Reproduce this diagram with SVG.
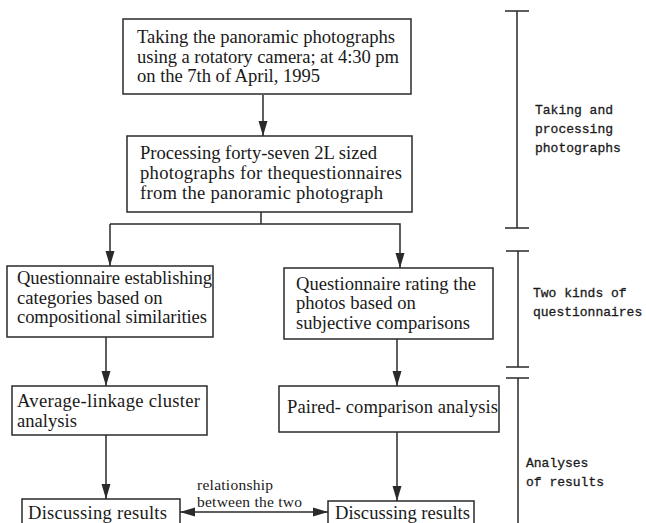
<svg xmlns="http://www.w3.org/2000/svg" width="646" height="523" viewBox="0 0 646 523">
<style>
.box{fill:#fff;stroke:#2a2a2a;stroke-width:1.5}
.t{font-family:"Liberation Serif","Times New Roman",serif;font-size:18.6px;fill:#1a1a1a}
.s{font-family:"Liberation Serif","Times New Roman",serif;font-size:15.5px;fill:#1a1a1a}
.m{font-family:"Liberation Mono","DejaVu Sans Mono",monospace;font-size:13px;fill:#1a1a1a;stroke:#1a1a1a;stroke-width:0.3}
.c{fill:none;stroke:#2a2a2a;stroke-width:1.5}
</style>
<defs>
<marker id="ah" markerUnits="userSpaceOnUse" markerWidth="16" markerHeight="10" refX="15" refY="5" orient="auto-start-reverse" viewBox="0 0 16 10">
<path d="M0,0.5 L15,5 L0,9.5 z" fill="#2a2a2a"/>
</marker>
</defs>
<rect width="646" height="523" fill="#fff"/>
<g id="connectors">
<line class="c" x1="263" y1="95" x2="263" y2="136" marker-end="url(#ah)"/>
<polyline class="c" points="110,224 400,224 400,268" marker-end="url(#ah)"/>
<line class="c" x1="110" y1="224" x2="110" y2="266" marker-end="url(#ah)"/>
<line class="c" x1="261" y1="212" x2="261" y2="224"/>
<line class="c" x1="106" y1="337" x2="106" y2="386" marker-end="url(#ah)"/>
<line class="c" x1="397" y1="339" x2="397" y2="386" marker-end="url(#ah)"/>
<line class="c" x1="106" y1="435" x2="106" y2="499" marker-end="url(#ah)"/>
<line class="c" x1="397" y1="432" x2="397" y2="501" marker-end="url(#ah)"/>
<line class="c" x1="180" y1="512" x2="328" y2="512" marker-start="url(#ah)" marker-end="url(#ah)"/>
<text class="s" x="197" y="490" textLength="76">relationship</text>
<text class="s" x="197" y="507" textLength="105">between the two</text>
</g>
<g id="n1">
<rect class="box" x="123" y="19" width="288" height="75"/>
<text class="t" x="137" y="43" textLength="258">Taking the panoramic photographs</text>
<text class="t" x="137" y="63" textLength="262">using a rotatory camera; at 4:30 pm</text>
<text class="t" x="137" y="82" textLength="183">on the 7th of April, 1995</text>
</g>
<g id="n2">
<rect class="box" x="127" y="136" width="285" height="76"/>
<text class="t" x="140" y="159" textLength="237">Processing forty-seven 2L sized</text>
<text class="t" x="140" y="179" textLength="262">photographs for thequestionnaires</text>
<text class="t" x="140" y="199" textLength="243">from the panoramic photograph</text>
</g>
<g id="n3">
<rect class="box" x="7" y="266" width="206" height="71"/>
<text class="t" x="17" y="284" textLength="195">Questionnaire establishing</text>
<text class="t" x="17" y="304">categories based on</text>
<text class="t" x="17" y="323" textLength="190">compositional similarities</text>
</g>
<g id="n4">
<rect class="box" x="284" y="268" width="209" height="71"/>
<text class="t" x="296" y="290" textLength="180">Questionnaire rating the</text>
<text class="t" x="296" y="309">photos based on</text>
<text class="t" x="296" y="329">subjective comparisons</text>
</g>
<g id="n5">
<rect class="box" x="12" y="386" width="195" height="49"/>
<text class="t" x="17" y="407" textLength="183">Average-linkage cluster</text>
<text class="t" x="17" y="427">analysis</text>
</g>
<g id="n6">
<rect class="box" x="279" y="386" width="220" height="46"/>
<text class="t" x="287" y="413" textLength="211">Paired- comparison analysis</text>
</g>
<g id="n7">
<rect class="box" x="22" y="499" width="158" height="30"/>
<text class="t" x="28" y="519" textLength="139">Discussing results</text>
</g>
<g id="n8">
<rect class="box" x="328" y="501" width="146" height="30"/>
<text class="t" x="335" y="519" textLength="135">Discussing results</text>
</g>
<g id="brackets">
<path class="c" d="M517,11 V228 M505,11 H529 M505,228 H529"/>
<path class="c" d="M518,251 V367 M506,251 H529 M506,367 H529"/>
<path class="c" d="M518,378 V523 M506,378 H529"/>
<text class="m" x="535" y="114">Taking and</text>
<text class="m" x="535" y="133">processing</text>
<text class="m" x="535" y="152">photographs</text>
<text class="m" x="533" y="297">Two kinds of</text>
<text class="m" x="533" y="316">questionnaires</text>
<text class="m" x="526" y="467">Analyses</text>
<text class="m" x="526" y="486">of results</text>
</g>
</svg>
